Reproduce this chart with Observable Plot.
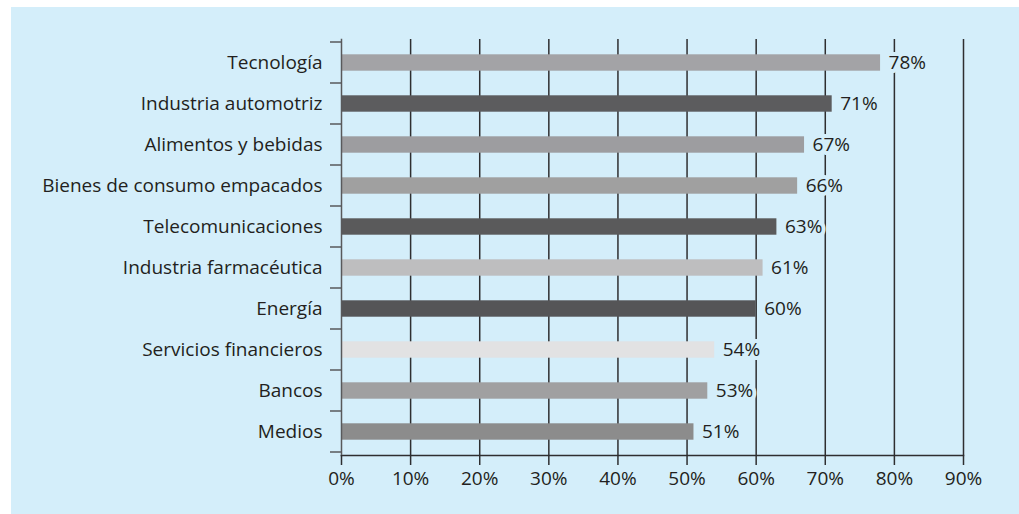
<!DOCTYPE html>
<html>
<head>
<meta charset="utf-8">
<script src="https://cdn.jsdelivr.net/npm/d3@7"></script>
<script src="https://cdn.jsdelivr.net/npm/@observablehq/plot@0.6"></script>
<style>
  html, body { margin: 0; padding: 0; background: #ffffff; }
  #panel { position: absolute; left: 11px; top: 7px; width: 1008px; height: 507px; background: #d4eefa; }
  #panel svg { display: block; }
</style>
</head>
<body>
<div id="panel"></div>
<script>
const categories = ["Tecnología", "Industria automotriz", "Alimentos y bebidas", "Bienes de consumo empacados", "Telecomunicaciones", "Industria farmacéutica", "Energía", "Servicios financieros", "Bancos", "Medios"];
const values = [78, 71, 67, 66, 63, 61, 60, 54, 53, 51];
const barColors = ["#a3a3a6", "#5c5c5e", "#9d9da0", "#a0a0a0", "#5a5a5b", "#bebebf", "#555557", "#e2e2e3", "#a0a0a1", "#8c8c8c"];
const xTicks = [0, 10, 20, 30, 40, 50, 60, 70, 80, 90];

const data = categories.map((c, i) => ({category: c, value: values[i], color: barColors[i]}));
const BG = "#d4eefa";
const FONT = "'Open Sans', 'Noto Sans', sans-serif";

function boundaryTicks(index, scales, values, dims) {
  const y = scales.y;
  const bw = y.bandwidth ? y.bandwidth() : 0;
  const ys = new Set();
  for (const c of categories) { ys.add(y(c)); ys.add(y(c) + bw); }
  const g = d3.create("svg:g");
  for (const v of ys) {
    g.append("line")
      .attr("x1", dims.marginLeft - 11).attr("x2", dims.marginLeft)
      .attr("y1", v).attr("y2", v)
      .attr("stroke", "#58595b").attr("stroke-width", 1.5);
  }
  return g.node();
}

const chart = Plot.plot({
  width: 1008,
  height: 507,
  marginLeft: 330,
  marginRight: 56,
  marginTop: 32,
  marginBottom: 59,
  style: {background: "transparent", fontFamily: FONT, fontSize: "19px", color: "#231f20"},
  x: {domain: [0, 90], ticks: xTicks, tickFormat: d => d + "%"},
  y: {domain: categories, padding: 0},
  marks: [
    Plot.ruleX(xTicks.filter(d => d > 0), {stroke: "#2e2e30", strokeWidth: 1.5, strokeOpacity: 1}),
    Plot.barX(data, {x: "value", y: "category", fill: "color", insetTop: 12.3, insetBottom: 12.3}),
    Plot.text(data, {x: "value", y: "category", text: d => d.value + "%", dx: 8, textAnchor: "start", fontSize: 19, fill: "#231f20", stroke: BG, strokeWidth: 8, fontFamily: FONT}),
    Plot.frame({anchor: "bottom", stroke: "#2e2e30", strokeWidth: 1.5}),
    Plot.frame({anchor: "left", stroke: "#58595b", strokeWidth: 1.5}),
    boundaryTicks,
    Plot.axisX(xTicks, {tickSize: 10, tickPadding: 6, tickFormat: d => d + "%", stroke: "#2e2e30", strokeWidth: 1.5, fontSize: 19, label: null}),
    Plot.axisY({tickSize: 0, tickPadding: 19, fontSize: 19, label: null})
  ]
});
document.getElementById("panel").appendChild(chart);
</script>
</body>
</html>
